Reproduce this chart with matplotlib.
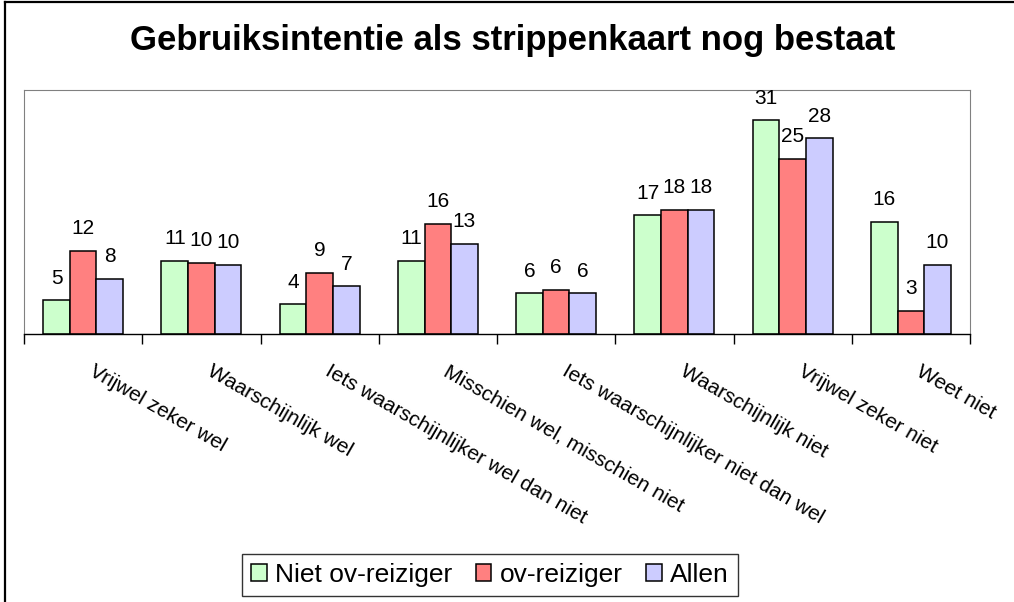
import matplotlib.pyplot as plt
import numpy as np
from matplotlib.lines import Line2D
from matplotlib.transforms import ScaledTranslation

plt.rcParams['font.family'] = ['Liberation Sans', 'DejaVu Sans']

categories = ['Vrijwel zeker wel', 'Waarschijnlijk wel',
              'Iets waarschijnlijker wel dan niet', 'Misschien wel, misschien niet',
              'Iets waarschijnlijker niet dan wel', 'Waarschijnlijk niet',
              'Vrijwel zeker niet', 'Weet niet']
niet_ov = [4.9, 10.6, 4.35, 10.6, 5.9, 17.2, 31.0, 16.25]
ov = [12.05, 10.3, 8.9, 16.0, 6.4, 18.0, 25.4, 3.4]
allen = [8.0, 10.05, 6.9, 13.1, 5.9, 18.0, 28.4, 10.05]
series_names = ['Niet ov-reiziger', 'ov-reiziger', 'Allen']
colors = ['#CCFFCC', '#FF8080', '#CCCCFF']

fig = plt.figure(figsize=(10.14, 6.02), dpi=100)
ax = fig.add_axes([0.0237, 0.4452, 0.9329, 0.4053])

x = np.arange(len(categories))
w = 0.225
for k, vals in enumerate([niet_ov, ov, allen]):
    bars = ax.bar(x + (k - 1) * w, vals, w, color=colors[k], edgecolor='black',
                  linewidth=1.1, label=series_names[k])
    for b, v in zip(bars, vals):
        ax.annotate('%d' % round(v), (b.get_x() + b.get_width() / 2, v),
                    xytext=(0, 9), textcoords='offset points',
                    ha='center', va='bottom', fontsize=15)

ax.set_xlim(-0.5, 7.5)
ax.set_ylim(0, 35.4)
ax.set_yticks([])
for s in ['top', 'left', 'right']:
    ax.spines[s].set_color('#808080')
    ax.spines[s].set_linewidth(0.8)
ax.spines['bottom'].set_linewidth(1.0)

ax.set_xticks(x)
ax.set_xticks(np.arange(-0.5, 8, 1), minor=True)
ax.tick_params(axis='x', which='major', length=0, pad=20)
ax.tick_params(axis='x', which='minor', length=7, width=1, color='black')
ax.set_xticklabels(categories, rotation=-30, ha='left', va='top',
                   rotation_mode='anchor', fontsize=15)
for lab in ax.get_xticklabels():
    lab.set_transform(lab.get_transform() + ScaledTranslation(0.12, 0, fig.dpi_scale_trans))

fig.text(0.506, 0.933, 'Gebruiksintentie als strippenkaart nog bestaat',
         ha='center', va='center', fontsize=25, fontweight='bold')

leg = fig.legend(loc='center', bbox_to_anchor=(0.483, 0.045), ncol=3, fontsize=19,
                 frameon=True, fancybox=False, edgecolor='black',
                 handlelength=0.6, handleheight=0.6, handletextpad=0.3,
                 columnspacing=0.9, borderpad=0.35, borderaxespad=0)
leg.get_frame().set_linewidth(1.0)

# figure frame (left and top edges visible)
fig.add_artist(Line2D([0.005, 0.005], [0, 0.996], transform=fig.transFigure,
                      color='black', linewidth=1.6))
fig.add_artist(Line2D([0.005, 1.0], [0.996, 0.996], transform=fig.transFigure,
                      color='black', linewidth=1.6))

plt.savefig('out.png', dpi=100)
